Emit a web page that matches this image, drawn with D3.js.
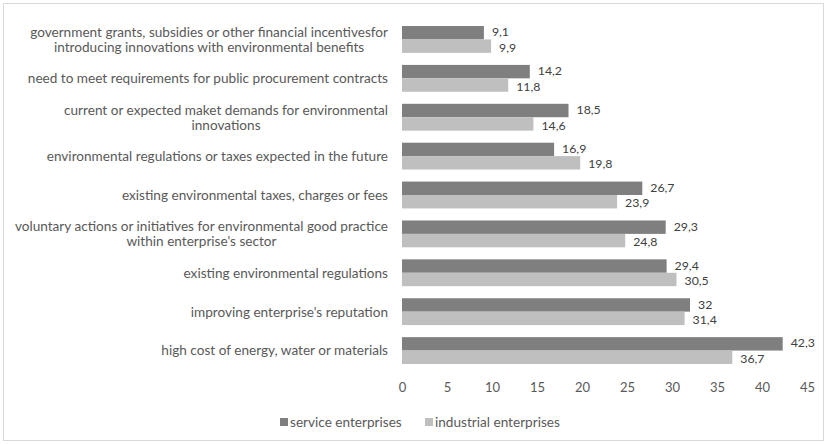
<!DOCTYPE html>
<html>
<head>
<meta charset="utf-8">
<script src="https://cdn.jsdelivr.net/npm/d3@7"></script>
<style>
  html, body { margin: 0; padding: 0; background: #fff; }
  svg text { font-family: "Lato", "Open Sans", sans-serif; }
</style>
</head>
<body>
<svg id="chart" width="827" height="444"></svg>
<script>
// Factors motivating environmental innovations, % of enterprises
const categories = [
  ["government grants, subsidies or other financial incentivesfor", "introducing innovations with environmental benefits"],
  ["need to meet requirements for public procurement contracts"],
  ["current or expected maket demands for environmental", "innovations"],
  ["environmental regulations or taxes expected in the future"],
  ["existing environmental taxes, charges or fees"],
  ["voluntary actions or initiatives for environmental good practice", "within enterprise's sector"],
  ["existing environmental regulations"],
  ["improving enterprise's reputation"],
  ["high cost of energy, water or materials"]
];
const serviceValues = [9.1, 14.2, 18.5, 16.9, 26.7, 29.3, 29.4, 32, 42.3];
const industrialValues = [9.9, 11.8, 14.6, 19.8, 23.9, 24.8, 30.5, 31.4, 36.7];
const seriesNames = ["service enterprises", "industrial enterprises"];
const seriesColors = ["#7f7f7f", "#bfbfbf"];
const xTicks = [0, 5, 10, 15, 20, 25, 30, 35, 40, 45];

const svg = d3.select("#chart");
const W = 827, H = 444;

// outer frame
svg.append("rect")
  .attr("x", 3.5).attr("y", 3.5)
  .attr("width", W - 7).attr("height", H - 7)
  .attr("fill", "#fff").attr("stroke", "#d9d9d9");

const plot = { left: 402, right: 807, top: 20, bottom: 370 };

const x = d3.scaleLinear().domain([0, 45]).range([plot.left, plot.right]);
const y = d3.scaleBand()
  .domain(d3.range(categories.length))
  .range([plot.top, plot.bottom])
  .paddingInner(0.31)
  .paddingOuter(0.155);
const ySub = d3.scaleBand().domain([0, 1]).range([0, y.bandwidth()]);

const locale = d3.formatLocale({ decimal: ",", thousands: " ", grouping: [3], currency: ["", ""] });
const fmt = locale.format("~g");

const rows = categories.map((c, i) => ({ i, values: [serviceValues[i], industrialValues[i]] }));

const groups = svg.append("g").selectAll("g")
  .data(rows).join("g")
  .attr("transform", d => `translate(0,${y(d.i)})`);

groups.selectAll("rect")
  .data(d => d.values.map((v, s) => ({ v, s })))
  .join("rect")
  .attr("x", x(0))
  .attr("y", d => ySub(d.s))
  .attr("width", d => x(d.v) - x(0))
  .attr("height", ySub.bandwidth())
  .attr("fill", d => seriesColors[d.s]);

// value labels, nudged apart so the pair in a group does not collide
const valueNudge = [-0.8, 1.2];
groups.selectAll("text.val")
  .data(d => d.values.map((v, s) => ({ v, s })))
  .join("text")
  .attr("class", "val")
  .attr("x", d => x(d.v) + 8)
  .attr("y", d => ySub(d.s) + ySub.bandwidth() / 2 + valueNudge[d.s])
  .attr("dy", "0.36em")
  .attr("font-size", 12.3)
  .attr("fill", "#404040")
  .text(d => fmt(d.v));

// category labels; wrapped ones are centred under their widest line
const labelRight = 388;
const lineH = 15;
const labels = svg.append("g").selectAll("text")
  .data(rows).join("text")
  .attr("font-size", 13.6)
  .attr("fill", "#595959");
labels.each(function (d) {
  const t = d3.select(this);
  const lines = categories[d.i];
  const cy = y(d.i) + y.bandwidth() / 2;
  const y0 = cy - (lines.length - 1) * lineH / 2;
  lines.forEach((ln, k) => {
    t.append("tspan").attr("y", y0 + k * lineH).attr("dy", "0.36em").text(ln);
  });
  if (lines.length === 1) {
    t.attr("text-anchor", "end").selectAll("tspan").attr("x", labelRight);
  } else {
    let maxW = 0;
    t.selectAll("tspan").each(function () { maxW = Math.max(maxW, this.getComputedTextLength()); });
    t.attr("text-anchor", "middle").selectAll("tspan").attr("x", labelRight - maxW / 2);
  }
});

// x axis (labels only)
const xAxis = svg.append("g")
  .attr("transform", `translate(0,${plot.bottom})`)
  .call(d3.axisBottom(x).tickValues(xTicks).tickSize(0).tickPadding(13).tickFormat(fmt));
xAxis.select(".domain").remove();
xAxis.selectAll("text")
  .attr("font-size", 13)
  .attr("fill", "#595959")
  .style("font-family", "Lato, 'Open Sans', sans-serif");

// legend
const legend = svg.append("g").attr("transform", "translate(280,422)");
const legendX = [0, 145];
seriesNames.forEach((name, s) => {
  const g = legend.append("g").attr("transform", `translate(${legendX[s]},0)`);
  g.append("rect").attr("x", 0).attr("y", -4).attr("width", 8).attr("height", 8).attr("fill", seriesColors[s]);
  g.append("text").attr("x", 10).attr("y", 0).attr("dy", "0.36em")
    .attr("font-size", 13.6).attr("fill", "#595959").text(name);
});
</script>
</body>
</html>
